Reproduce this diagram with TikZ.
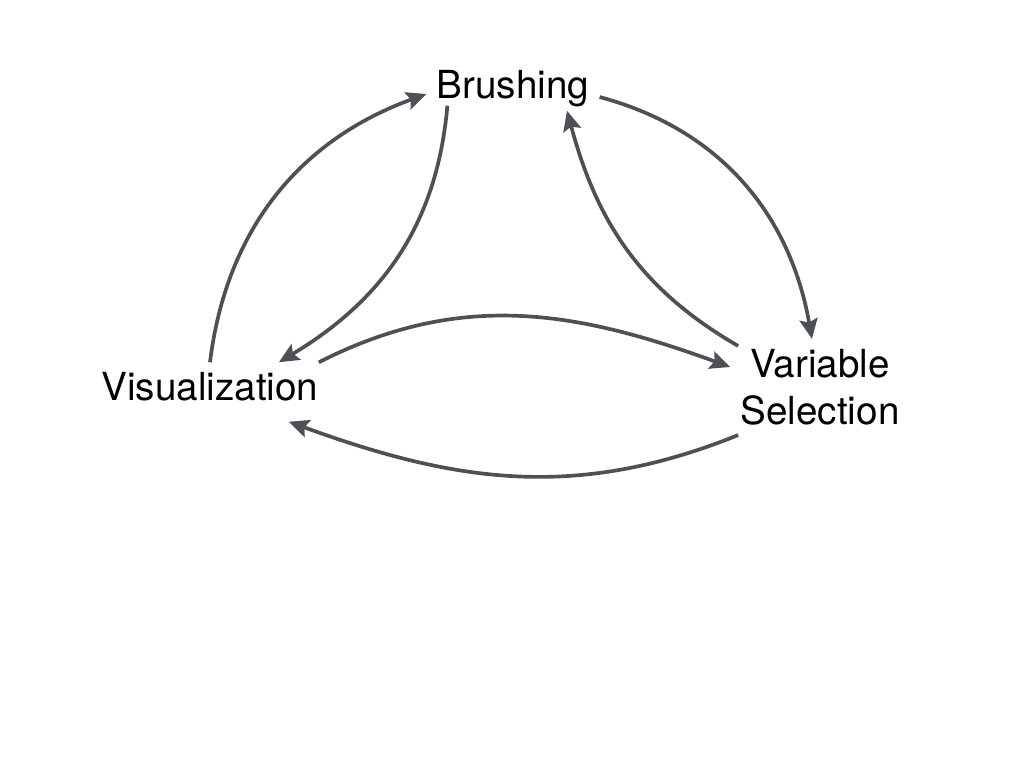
\documentclass[tikz,border=0pt]{standalone}
\usepackage{fontspec}
\setmainfont{TeX Gyre Heros}
\usetikzlibrary{arrows.meta}
\definecolor{arrowgray}{HTML}{4D5157}
\begin{document}
\begin{tikzpicture}[x=0.02cm,y=-0.02cm,
 term/.style={align=center,inner sep=0.2cm,font=\fontsize{22}{26.5}\selectfont},
 link/.style={-{Stealth[length=0.4cm,width=0.36cm,inset=0.07cm]},draw=arrowgray,line width=2.1pt},
 >=Stealth]
\useasboundingbox (0,0) rectangle (1028,772);
\node[term] (brush) at (513,89) {Brushing};
\node[term] (vis) at (210,387) {Visualization};
\node[term] (var) at (820,387) {Variable\\Selection};
\draw[link] (vis.north) to[out=83,in=200] ([yshift=-0.1cm]brush.west);
\draw[link] ([xshift=0.42cm,yshift=0.24cm]brush.south west) to[out=-95,in=31] ([xshift=-1cm]vis.north east);
\draw[link] ([yshift=-0.16cm]brush.east) to[out=-15,in=100] ([xshift=-0.16cm]var.north);
\draw[link] ([xshift=0.16cm,yshift=-0.14cm]var.north west) to[out=150,in=-75] ([xshift=1.08cm,yshift=0.14cm]brush.south);
\draw[link] ([xshift=-0.2cm]vis.north east) to[out=27,in=160] ([yshift=0.4cm]var.west);
\draw[link] ([xshift=0.16cm]var.south west) to[out=202,in=-20] ([xshift=-0.8cm,yshift=-0.2cm]vis.south east);
\end{tikzpicture}
\end{document}
